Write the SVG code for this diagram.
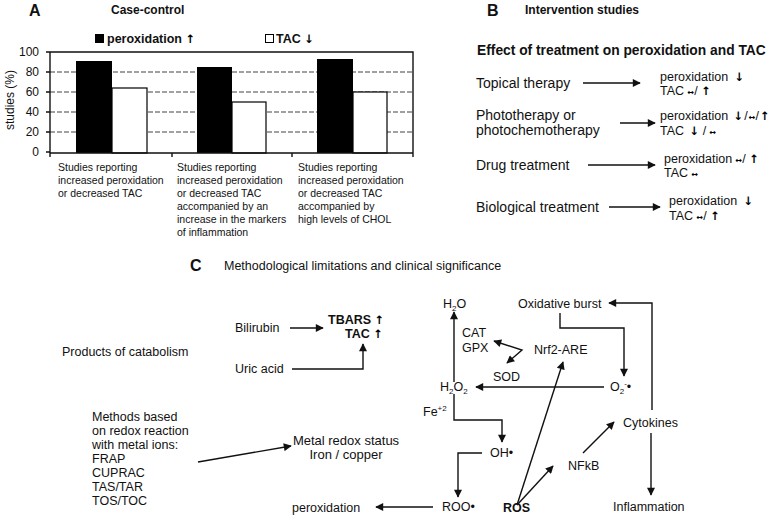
<svg xmlns="http://www.w3.org/2000/svg" width="777" height="515" viewBox="0 0 777 515">
<style>
text{font-family:"Liberation Sans",Arial,sans-serif;fill:#111;font-size:12.5px}
.b{font-weight:bold}
.ttl{font-weight:bold;font-size:16px}
.hd{font-weight:bold;font-size:12px}
.eff{font-weight:bold;font-size:13.8px}
.cat{font-size:10.5px}
.ax{font-size:12px;text-anchor:end}
.lc{font-size:14px}
.rc{font-size:12.5px}
.t12{font-size:12px}
.t13{font-size:13px}
.ln{stroke:#111;stroke-width:1.4;fill:none}
.ar{stroke:#111;stroke-width:1.4;fill:none;marker-end:url(#ah)}
.grid{stroke:#444;stroke-width:1.2;stroke-dasharray:5,2}
.sm{font-size:8px}
.g{font-family:"DejaVu Sans",sans-serif;font-weight:bold;fill:#000;font-size:11.5px}
.d{font-family:"DejaVu Sans",sans-serif;font-weight:bold;fill:#000;font-size:8px}
</style>
<defs>
<marker id="ah" viewBox="0 0 10 10" refX="9" refY="5" markerWidth="9" markerHeight="8" markerUnits="userSpaceOnUse" orient="auto-start-reverse">
<path d="M0,0 L10,5 L0,10 z" fill="#111"/>
</marker>
</defs>
<rect width="777" height="515" fill="#fff"/>

<!-- Panel A -->
<g id="panelA">
<text class="ttl" x="29" y="16">A</text>
<text class="hd" x="111" y="14">Case-control</text>
<rect x="95" y="34" width="9" height="9" fill="#000"/>
<text class="b" x="107" y="43">peroxidation <tspan class="g">↑</tspan></text>
<rect x="265.5" y="34.5" width="8" height="8" fill="#fff" stroke="#000"/>
<text class="b" x="276" y="43">TAC <tspan class="g">↓</tspan></text>
<text class="t12" transform="translate(14,100) rotate(-90)" text-anchor="middle">studies (%)</text>
<text class="ax" x="39" y="56">100</text>
<text class="ax" x="39" y="76">80</text>
<text class="ax" x="39" y="96">60</text>
<text class="ax" x="39" y="116">40</text>
<text class="ax" x="39" y="136">20</text>
<text class="ax" x="39" y="156">0</text>
<line class="grid" x1="50" y1="72" x2="413" y2="72"/>
<line class="grid" x1="50" y1="92" x2="413" y2="92"/>
<line class="grid" x1="50" y1="112" x2="413" y2="112"/>
<line class="grid" x1="50" y1="132" x2="413" y2="132"/>
<rect x="76" y="61" width="36" height="92" fill="#000"/>
<rect x="112" y="88" width="35" height="65" fill="#fff" stroke="#000" stroke-width="1.2"/>
<rect x="197" y="67" width="35" height="86" fill="#000"/>
<rect x="232" y="102" width="34" height="51" fill="#fff" stroke="#000" stroke-width="1.2"/>
<rect x="317" y="59" width="36" height="94" fill="#000"/>
<rect x="353" y="92" width="34" height="61" fill="#fff" stroke="#000" stroke-width="1.2"/>
<path class="ln" d="M50,52 H413 V153 M50,52 V153 H413 M46,52 H50 M46,72 H50 M46,92 H50 M46,112 H50 M46,132 H50 M46,152 H50 M50,153 V157 M172,153 V157 M292,153 V157 M413,153 V157" stroke-width="1.2"/>
<text class="cat" x="58" y="171">Studies reporting</text>
<text class="cat" x="58" y="184">increased peroxidation</text>
<text class="cat" x="58" y="197">or decreased TAC</text>
<text class="cat" x="177" y="171">Studies reporting</text>
<text class="cat" x="177" y="184">increased peroxidation</text>
<text class="cat" x="177" y="197">or decreased TAC</text>
<text class="cat" x="177" y="210">accompanied by an</text>
<text class="cat" x="177" y="223">increase in the markers</text>
<text class="cat" x="177" y="236">of inflammation</text>
<text class="cat" x="298" y="171">Studies reporting</text>
<text class="cat" x="298" y="184">increased peroxidation</text>
<text class="cat" x="298" y="197">or decreased TAC</text>
<text class="cat" x="298" y="210">accompanied by</text>
<text class="cat" x="298" y="223">high levels of CHOL</text>
</g>

<!-- Panel B -->
<g id="panelB">
<text class="ttl" x="487" y="16">B</text>
<text class="hd" x="525" y="14">Intervention studies</text>
<text class="eff" x="477" y="55">Effect of treatment on peroxidation and TAC</text>
<g id="topical">
<text class="lc" x="476" y="88">Topical therapy</text>
<text class="rc" x="660" y="81">peroxidation <tspan class="g" dx="3">↓</tspan></text>
<text class="rc" x="660" y="95">TAC <tspan class="d">↔</tspan>/ <tspan class="g">↑</tspan></text>
</g>
<g id="photo">
<text class="lc" x="476" y="120">Phototherapy or</text>
<text class="lc" x="476" y="135">photochemotherapy</text>
<text class="rc" x="660" y="120">peroxidation <tspan class="g" dx="2">↓</tspan><tspan dx="1">/</tspan><tspan class="d" dx="1">↔</tspan>/<tspan class="g" dx="1">↑</tspan></text>
<text class="rc" x="660" y="135">TAC <tspan class="g" dx="2">↓</tspan> / <tspan class="d">↔</tspan></text>
</g>
<g id="drug">
<text class="lc" x="476" y="170">Drug treatment</text>
<text class="rc" x="664" y="163">peroxidation <tspan class="d">↔</tspan>/ <tspan class="g">↑</tspan></text>
<text class="rc" x="664" y="177">TAC <tspan class="d">↔</tspan></text>
</g>
<g id="biological">
<text class="lc" x="476" y="212">Biological treatment</text>
<text class="rc" x="669" y="205">peroxidation <tspan class="g" dx="3">↓</tspan></text>
<text class="rc" x="669" y="220">TAC <tspan class="d">↔</tspan>/ <tspan class="g">↑</tspan></text>
</g>
</g>

<!-- Panel C -->
<g id="panelC">
<text class="ttl" x="190" y="271">C</text>
<text x="224" y="270">Methodological limitations and clinical significance</text>
</g>
<g id="products"><text x="62" y="356">Products of catabolism</text></g>
<g id="bilirubin"><text x="235" y="332">Bilirubin</text></g>
<g id="uric"><text x="235" y="373">Uric acid</text></g>
<g id="tbars"><text class="b" x="328" y="324">TBARS <tspan class="g">↑</tspan></text><text class="b" x="345" y="338">TAC <tspan class="g">↑</tspan></text></g>
<g id="methods">
<text x="92" y="421">Methods based</text>
<text x="92" y="435">on redox reaction</text>
<text x="92" y="449">with metal ions:</text>
<text x="92" y="463">FRAP</text>
<text x="92" y="477">CUPRAC</text>
<text x="92" y="491">TAS/TAR</text>
<text x="92" y="505">TOS/TOC</text>
</g>
<g id="metal"><text class="t13" x="346" y="445" text-anchor="middle">Metal redox status</text><text class="t13" x="346" y="459" text-anchor="middle">Iron / copper</text></g>
<g id="h2o"><text x="443" y="308">H<tspan class="sm" dy="3">2</tspan><tspan dy="-3">O</tspan></text></g>
<g id="oxburst"><text x="518" y="308">Oxidative burst</text></g>
<g id="catgpx"><text x="462" y="337">CAT</text><text x="462" y="352">GPX</text></g>
<g id="nrf2"><text x="534" y="354">Nrf2-ARE</text></g>
<g id="sod"><text x="493" y="381">SOD</text></g>
<g id="h2o2"><text x="440" y="391">H<tspan class="sm" dy="3">2</tspan><tspan dy="-3">O</tspan><tspan class="sm" dy="3">2</tspan></text></g>
<g id="o2"><text x="610" y="391">O<tspan class="sm" dy="3">2</tspan><tspan class="sm" dy="-8">-</tspan><tspan dy="5">•</tspan></text></g>
<g id="fe"><text x="423" y="416">Fe<tspan class="sm" dy="-5">+2</tspan></text></g>
<g id="oh"><text x="490" y="457">OH•</text></g>
<g id="cytokines"><text x="623" y="427">Cytokines</text></g>
<g id="nfkb"><text x="568" y="470">NFkB</text></g>
<g id="roo"><text x="442" y="511">ROO•</text></g>
<g id="ros"><text class="b" x="503" y="512">ROS</text></g>
<g id="peroxC"><text x="292" y="512">peroxidation</text></g>
<g id="inflammation"><text x="613" y="511">Inflammation</text></g>

<g id="connectors">
<line class="ar" x1="583" y1="83" x2="640" y2="83"/>
<line class="ar" x1="620" y1="123" x2="655" y2="123"/>
<line class="ar" x1="588" y1="165" x2="655" y2="165"/>
<line class="ar" x1="609" y1="207" x2="660" y2="207"/>
<line class="ar" x1="290" y1="328" x2="323" y2="328"/>
<polyline class="ar" points="292,369 363,369 363,344"/>
<line class="ar" x1="454" y1="382" x2="454" y2="312"/>
<line class="ar" x1="604" y1="387" x2="476" y2="387"/>
<polyline class="ar" points="560,313 560,328 624,328 624,376"/>
<polyline class="ar" points="652,410 652,303 609,303"/>
<polyline class="ar" style="marker-start:url(#ah)" points="494,341 522,350 507,363"/>
<line class="ar" x1="517" y1="505" x2="563" y2="362"/>
<line class="ar" x1="517" y1="505" x2="553" y2="466"/>
<line class="ar" x1="583" y1="453" x2="614" y2="422"/>
<line class="ar" x1="651" y1="433" x2="651" y2="495"/>
<polyline class="ar" points="454,394 454,420 502,420 502,442"/>
<polyline class="ar" points="482,453 458,453 458,497"/>
<line class="ar" x1="433" y1="507" x2="376" y2="507"/>
<line class="ar" x1="198" y1="462" x2="291" y2="446"/>
</g>
</svg>
